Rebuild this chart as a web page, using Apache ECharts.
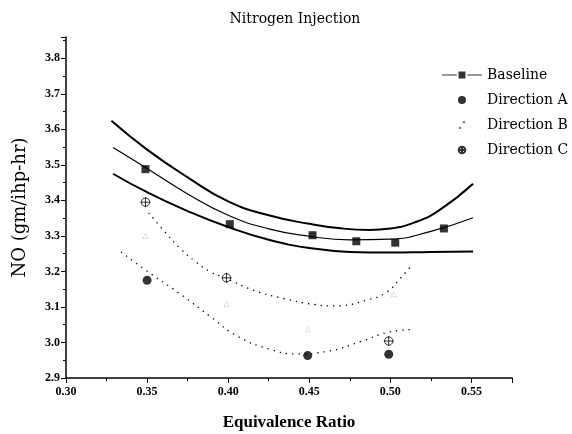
<!DOCTYPE html>
<html><head><meta charset="utf-8">
<script src="https://cdn.jsdelivr.net/npm/echarts@6/dist/echarts.min.js"></script>
<style>html,body{margin:0;padding:0;background:#fff}#c{width:572px;height:434px}</style>
</head><body><div id="c"></div>
<script>
// Measured points
const baseline = [[0.349,3.488],[0.401,3.333],[0.452,3.302],[0.479,3.285],[0.503,3.281],[0.533,3.321]];
const directionA = [[0.350,3.175],[0.449,2.963],[0.499,2.967]];
const directionB = [[0.349,3.300],[0.399,3.108],[0.449,3.037],[0.502,3.136]];
const directionC = [[0.349,3.395],[0.399,3.182],[0.499,3.004]];
// Fitted curves
const baseFit = [[0.329,3.549],[0.35,3.49],[0.375,3.418],[0.40,3.358],[0.425,3.32],[0.45,3.299],[0.475,3.289],[0.50,3.291],[0.525,3.313],[0.551,3.351]];
const baseUpper = [[0.328,3.624],[0.35,3.543],[0.375,3.465],[0.40,3.397],[0.425,3.358],[0.45,3.334],[0.468,3.322],[0.487,3.317],[0.50,3.321],[0.515,3.338],[0.53,3.372],[0.551,3.447]];
const baseLower = [[0.329,3.475],[0.35,3.423],[0.375,3.37],[0.40,3.325],[0.425,3.289],[0.45,3.266],[0.475,3.255],[0.50,3.253],[0.525,3.255],[0.551,3.256]];
const fitC = [[0.351,3.365],[0.362,3.306],[0.371,3.262],[0.38,3.227],[0.389,3.199],[0.399,3.18],[0.415,3.148],[0.434,3.124],[0.453,3.107],[0.465,3.103],[0.486,3.12],[0.498,3.143],[0.506,3.18],[0.514,3.222]];
const fitA = [[0.334,3.255],[0.349,3.204],[0.37,3.138],[0.389,3.073],[0.406,3.017],[0.425,2.982],[0.442,2.968],[0.461,2.975],[0.482,3.003],[0.498,3.028],[0.515,3.037]];
const xTicks = ['0.30','0.35','0.40','0.45','0.50','0.55'];
const yTicks = ['2.9','3.0','3.1','3.2','3.3','3.4','3.5','3.6','3.7','3.8'];
const legendNames = ['Baseline','Direction A','Direction B','Direction C'];

const serif = 'Liberation Serif';
const wide = 'DejaVu Serif';
const crossCircle = 'path://M0,-5A5,5 0 1,1 0,5A5,5 0 1,1 0,-5Z M-6,0L6,0 M0,-6L0,6';
const chart = echarts.init(document.getElementById('c'), null, {renderer:'canvas'});
const fitLine = (name, data, width, type) => ({
  name, type:'line', data, smooth:0.5, showSymbol:false, silent:true, z:1,
  lineStyle:{color:'#000', width, type: type || 'solid'}
});
chart.setOption({
  animation:false,
  backgroundColor:'#fff',
  title:{text:'Nitrogen Injection', left:290, textAlign:'center', top:7,
    textStyle:{fontFamily:wide, fontSize:14, fontWeight:'normal', color:'#000'}},
  legend:{
    orient:'vertical', left:437, top:62, itemWidth:40, itemHeight:8, itemGap:9,
    textStyle:{fontFamily:wide, fontSize:14, color:'#000', lineHeight:16},
    data:[
      {name:legendNames[0], icon:'path://M0,3.3H17V4.7H0Z M19,0H27V8H19Z M29,3.3H46V4.7H29Z'},
      {name:legendNames[1]},
      {name:legendNames[2], icon:'path://M2,0h1.2v1.2h-1.2Z M0,3h1.2v1.2h-1.2Z', itemStyle:{color:'#666', borderWidth:0}},
      {name:legendNames[3]}
    ]
  },
  grid:{left:66, right:60, top:37, bottom:56, outerBoundsMode:'none'},
  xAxis:{
    type:'value', min:0.30, max:0.575, interval:0.05,
    name:'Equivalence Ratio', nameLocation:'middle', nameGap:36,
    nameTextStyle:{fontFamily:serif, fontSize:17, fontWeight:'bold', color:'#000'},
    axisLine:{lineStyle:{color:'#000', width:1.5}},
    axisTick:{show:true, length:5, inside:false, lineStyle:{color:'#000'}},
    minorTick:{show:true, splitNumber:2, length:3, lineStyle:{color:'#000'}},
    splitLine:{show:false},
    axisLabel:{fontFamily:serif, fontSize:12, fontWeight:'bold', color:'#000', margin:8,
      showMaxLabel:false,
      formatter:v=>{const s=v.toFixed(2); return xTicks.includes(s)?s:'';}}
  },
  yAxis:{
    type:'value', min:2.9, max:3.86, interval:0.1,
    name:'NO (gm/ihp-hr)', nameLocation:'middle', nameGap:37,
    nameTextStyle:{fontFamily:wide, fontSize:18, color:'#000'},
    axisLine:{show:true, lineStyle:{color:'#000', width:1.5}},
    axisTick:{show:true, length:5, lineStyle:{color:'#000'}},
    minorTick:{show:true, splitNumber:2, length:3, lineStyle:{color:'#000'}},
    splitLine:{show:false},
    axisLabel:{fontFamily:serif, fontSize:12, fontWeight:'bold', color:'#000', margin:6,
      showMaxLabel:false,
      formatter:v=>{const s=v.toFixed(1); return yTicks.includes(s)?s:'';}}
  },
  series:[
    fitLine('bu', baseUpper, 2),
    fitLine('bm', baseFit, 1.2),
    fitLine('bl', baseLower, 2),
    fitLine('fc', fitC, 1.3, [1.3,5]),
    fitLine('fa', fitA, 1.3, [1.3,5]),
    {name:'Baseline', type:'scatter', data:baseline, symbol:'rect', symbolSize:8, z:3,
      itemStyle:{color:'#000'}},
    {name:'Direction A', type:'scatter', data:directionA, symbol:'circle', symbolSize:9, z:3,
      itemStyle:{color:'#000'}},
    {name:'Direction B', type:'scatter', data:directionB, symbol:'triangle', symbolSize:5, z:3,
      itemStyle:{color:'rgba(0,0,0,0)', borderColor:'#999', borderWidth:0.8, borderType:'dotted'}},
    {name:'Direction C', type:'scatter', data:directionC, symbol:crossCircle, symbolSize:10, symbolKeepAspect:true, z:3,
      itemStyle:{color:'#fff', borderColor:'#000', borderWidth:1}}
  ]
});
</script></body></html>
